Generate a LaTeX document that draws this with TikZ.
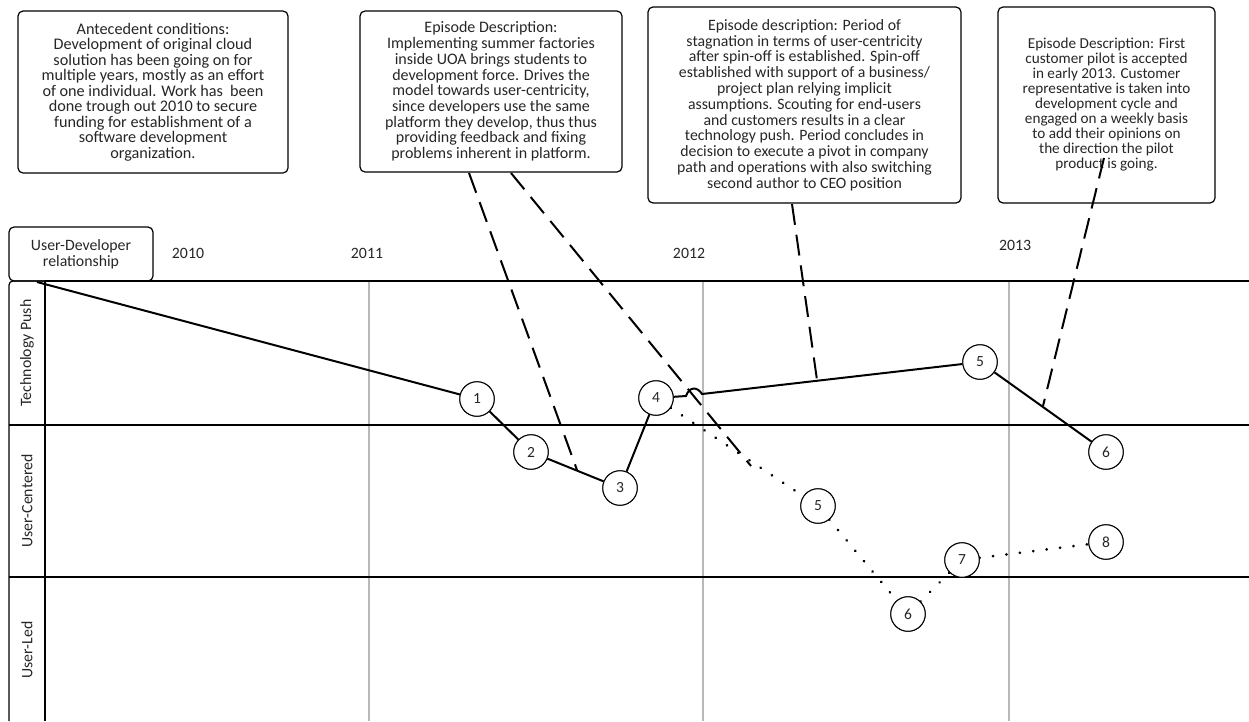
\documentclass[tikz,border=0pt]{standalone}
\usepackage{fontspec}
\setmainfont{Carlito}
\lineskiplimit=-100pt
\lineskip=0pt
\begin{document}
\begin{tikzpicture}[x=1pt,y=-1pt,
  grid/.style={line width=1.2pt,black},
  txt/.style={text=black!85},
  year/.style={txt,font=\fontsize{15.8}{17}\selectfont},
  descbox/.style={draw,line width=1.2pt,rounded corners=5pt,align=center,inner sep=0pt,txt},
  ep/.style={circle,draw,fill=white,line width=1pt,minimum size=34.5pt,inner sep=0pt,font=\fontsize{15.5}{17}\selectfont,txt},
  solidln/.style={line width=2pt,black},
  dotln/.style={line width=3pt,black,dash pattern=on 0.01pt off 13.5pt,line cap=round},
  dashln/.style={line width=2pt,black,dash pattern=on 21pt off 10pt},
  rowlab/.style={rotate=90,txt,font=\fontsize{15.8}{17}\selectfont}]
\useasboundingbox (0,0) rectangle (1249,721);
% grid
\draw[gray!55,line width=1.6pt] (369,281) -- (369,721) (703,281) -- (703,721) (1009,281) -- (1009,721);
\draw[grid,rounded corners=4pt] (9,721) -- (9,281) -- (45,281);
\draw[grid] (45,281) -- (1249,281) (45,281) -- (45,721);
\draw[grid] (9,425) -- (1249,425) (9,577) -- (1249,577);
\node[descbox,minimum width=144pt,minimum height=54pt,font=\fontsize{15.8}{16.3}\selectfont] (hdr) at (81,254) {User-Developer\\relationship};
\node[year] (y2010) at (188,253) {2010};
\node[year] (y2011) at (367,253) {2011};
\node[year] (y2012) at (689,253) {2012};
\node[year] (y2013) at (1015,245) {2013};
\node[rowlab] (r1) at (27,353) {Technology Push};
\node[rowlab] (r2) at (27,501) {User-Centered};
\node[rowlab] (r3) at (27,650) {User-Led};
% description boxes
\node[descbox,minimum width=270pt,minimum height=162pt,font=\fontsize{16.2}{15.5}\selectfont] (b1) at (153,92) {Antecedent conditions:\\Development of original cloud\\solution has been going on for\\multiple years, mostly as an effort\\of one individual. Work has\ \ been\\done trough out 2010 to secure\\funding for establishment of a\\software development\\organization.};
\node[descbox,minimum width=262pt,minimum height=161pt,font=\fontsize{16}{15.7}\selectfont] (b2) at (491,91.5) {Episode Description:\\Implementing summer factories\\inside UOA brings students to\\development force. Drives the\\model towards user-centricity,\\since developers use the same\\platform they develop, thus thus\\providing feedback and fixing\\problems inherent in platform.};
\node[descbox,minimum width=313pt,minimum height=196pt,font=\fontsize{15.8}{15.8}\selectfont] (b3) at (804.5,105) {Episode description: Period of\\stagnation in terms of user-centricity\\after spin-off is established. Spin-off\\established with support of a business/\\project plan relying implicit\\assumptions. Scouting for end-users\\and customers results in a clear\\technology push. Period concludes in\\decision to execute a pivot in company\\path and operations with also switching\\second author to CEO position};
\node[descbox,minimum width=217pt,minimum height=196pt,font=\fontsize{15.2}{15}\selectfont] (b4) at (1106.5,105) {Episode Description: First\\customer pilot is accepted\\in early 2013. Customer\\representative is taken into\\development cycle and\\engaged on a weekly basis\\to add their opinions on\\the direction the pilot\\product is going.};
% episodes
\node[ep] (e1) at (477,399) {1};
\node[ep] (e2) at (531,452) {2};
\node[ep] (e3) at (620,488) {3};
\node[ep] (e4) at (656,398) {4};
\node[ep] (e5) at (980,362) {5};
\node[ep] (e6) at (1106,452) {6};
\node[ep] (d5) at (818,506) {5};
\node[ep] (d6) at (908,614) {6};
\node[ep] (d7) at (962,560) {7};
\node[ep] (d8) at (1106,542) {8};
\coordinate (start) at (37,282);
\coordinate (h1) at (686,396);
\coordinate (h2) at (702,394);
\coordinate (t2a) at (469,173);
\coordinate (t2b) at (511,173);
\coordinate (t3) at (792,204);
\coordinate (t4) at (1104,158);
\coordinate (p23) at (577,470);
\coordinate (pend) at (751,466);
\coordinate (p45) at (817,380);
\coordinate (p56) at (1043,406);
% solid path
\draw[solidln] (start) -- (e1) -- (e2) -- (e3) -- (e4);
\draw[solidln] (e4) -- (h1) .. controls (689,387) and (697,386) .. (h2) -- (e5) -- (e6);
% dotted path
\draw[dotln] (e4) -- (d5) -- (d6) -- (d7) -- (d8);
% dashed pointers
\draw[dashln] (t2a) -- (p23);
\draw[dashln] (t2b) -- (pend);
\draw[dashln] (t3) -- (p45);
\draw[dashln] (t4) -- (p56);
% circles on top of dotted/dashed lines
\foreach \n/\t in {e1/1,e2/2,e3/3,e4/4,e5/5,e6/6,d5/5,d6/6,d7/7,d8/8}{
  \node[ep] at (\n) {\t};}
\end{tikzpicture}
\end{document}
